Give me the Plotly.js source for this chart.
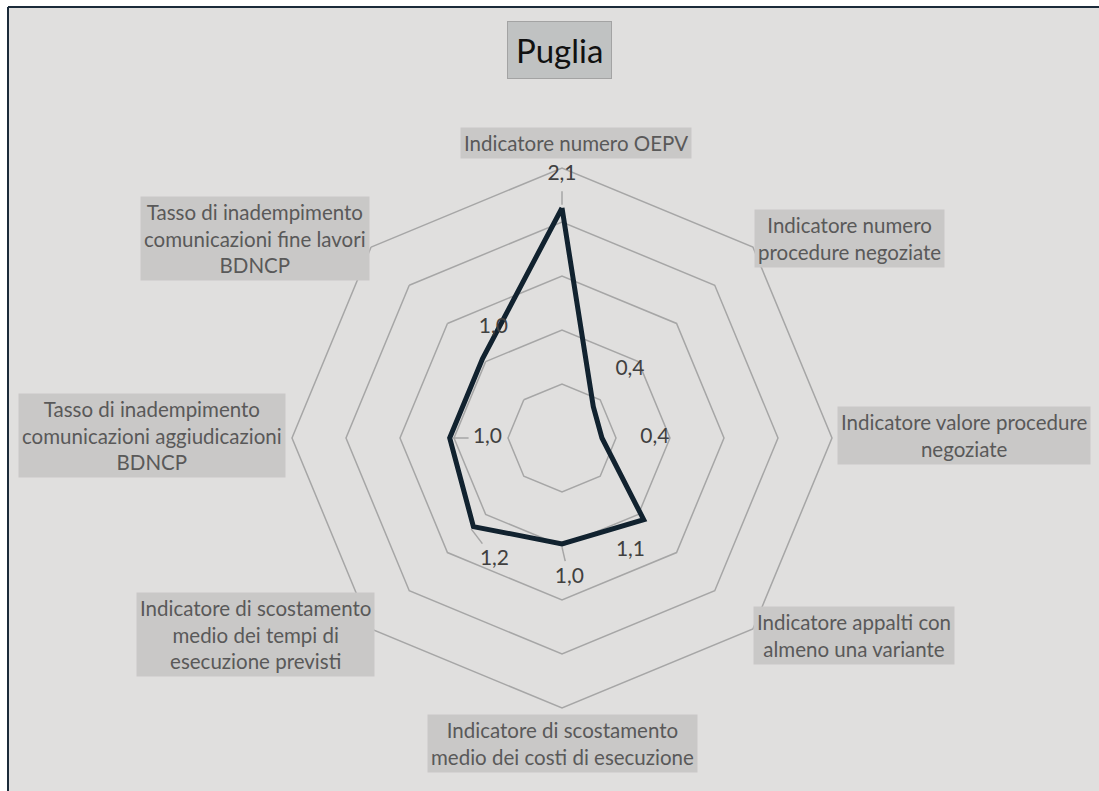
<!DOCTYPE html>
<html>
<head>
<meta charset="utf-8">
<script src="https://cdn.plot.ly/plotly-3.0.1.min.js"></script>
<style>
  html, body { margin: 0; padding: 0; background: #ffffff; }
  #chart { width: 1099px; height: 791px; }
</style>
</head>
<body>
<div id="chart"></div>
<script>
// categories, clockwise from the top
const categories = [
    "Indicatore numero OEPV",
    "Indicatore numero procedure negoziate",
    "Indicatore valore procedure negoziate",
    "Indicatore appalti con almeno una variante",
    "Indicatore di scostamento medio dei costi di esecuzione",
    "Indicatore di scostamento medio dei tempi di esecuzione previsti",
    "Tasso di inadempimento comunicazioni aggiudicazioni BDNCP",
    "Tasso di inadempimento comunicazioni fine lavori BDNCP"
];
const categoryLabels = [
    "Indicatore numero OEPV",
    "Indicatore numero<br>procedure negoziate",
    "Indicatore valore procedure<br>negoziate",
    "Indicatore appalti con<br>almeno una variante",
    "Indicatore di scostamento<br>medio dei costi di esecuzione",
    "Indicatore di scostamento<br>medio dei tempi di<br>esecuzione previsti",
    "Tasso di inadempimento<br>comunicazioni aggiudicazioni<br>BDNCP",
    "Tasso di inadempimento<br>comunicazioni fine lavori<br>BDNCP"
];
const values = [2.13, 0.41, 0.37, 1.07, 0.98, 1.16, 1.04, 1.04];

// where each data label sits, relative to its point (radial units / degrees)
const labelDr = [0.31, 0.48, 0.49, 0.15, 0.32, 0.13, -0.35, 0.16];
const labelDTheta = [0, 0, 0, 13.7, -3, -16, 0, 13];
// which labels get a small leader line back to the point
const hasLeader = [true, false, false, false, true, true, true, false];

// category box centers in pixels
const boxPos = [
    [576, 143], [849, 238], [964, 436], [854, 635],
    [562, 743], [255, 634], [152, 436], [255, 238]
];

const W = 1099, H = 791;
const angles = categories.map((c, i) => i * 45);
const FONT = 'Lato, "Open Sans", sans-serif';

const lineTrace = {
    type: 'scatterpolar',
    subplot: 'polar',
    r: values.concat([values[0]]),
    theta: categories.concat([categories[0]]),
    mode: 'lines',
    line: { color: '#11222f', width: 5 },
    hoverinfo: 'skip'
};

// leader lines: from just off the point half way towards its label
const leadR = [], leadT = [];
values.forEach((v, i) => {
    if (!hasLeader[i]) return;
    const s = labelDr[i] > 0 ? 1 : -1;
    leadR.push(v + s * 0.03, v + labelDr[i] * 0.5, null);
    leadT.push(angles[i], angles[i] + labelDTheta[i] * 0.5, null);
});
const leaderTrace = {
    type: 'scatterpolar',
    subplot: 'polar2',
    r: leadR,
    theta: leadT,
    mode: 'lines',
    line: { color: '#a6a6a6', width: 1.5 },
    connectgaps: false,
    hoverinfo: 'skip'
};

const labelTrace = {
    type: 'scatterpolar',
    subplot: 'polar2',
    r: values.map((v, i) => v + labelDr[i]),
    theta: angles.map((a, i) => a + labelDTheta[i]),
    customdata: values,
    mode: 'text',
    texttemplate: '%{customdata:.1f}',
    textposition: 'middle center',
    textfont: { family: FONT, size: 21, color: '#404040' },
    hoverinfo: 'skip'
};

const cx = 562, cy = 438, R = 270;
const domain = {
    x: [(cx - R) / W, (cx + R) / W],
    y: [(H - cy - R) / H, (H - cy + R) / H]
};

const annotations = categoryLabels.map((t, i) => ({
    text: t,
    xref: 'paper', yref: 'paper',
    x: boxPos[i][0] / W, y: 1 - boxPos[i][1] / H,
    xanchor: 'center', yanchor: 'middle',
    showarrow: false,
    align: 'center',
    bgcolor: '#c9c8c7',
    borderpad: 3,
    font: { family: FONT, size: 20.5, color: '#595959' }
}));

annotations.push({
    text: 'Puglia',
    xref: 'paper', yref: 'paper',
    x: 559 / W, y: 1 - 50 / H,
    xanchor: 'center', yanchor: 'middle',
    showarrow: false,
    bgcolor: '#c0c2c2',
    bordercolor: '#a3a3a3',
    borderwidth: 1,
    borderpad: 8,
    font: { family: FONT, size: 33, color: '#111111' }
});

const layout = {
    width: W,
    height: H,
    margin: { l: 0, r: 0, t: 0, b: 0 },
    paper_bgcolor: '#ffffff',
    showlegend: false,
    separators: ',.',
    shapes: [
        { type: 'rect', xref: 'paper', yref: 'paper', x0: 8 / W, x1: 1, y0: 0, y1: 1 - 7 / H,
          fillcolor: '#e0dfde', line: { width: 0 }, layer: 'below' },
        { type: 'line', xref: 'paper', yref: 'paper', x0: 8 / W, x1: 8 / W, y0: 0, y1: 1 - 7 / H,
          line: { color: '#1b2b3a', width: 2 } },
        { type: 'line', xref: 'paper', yref: 'paper', x0: 8 / W, x1: 1, y0: 1 - 7 / H, y1: 1 - 7 / H,
          line: { color: '#1b2b3a', width: 2 } }
    ],
    polar: {
        domain: domain,
        bgcolor: 'rgba(0,0,0,0)',
        gridshape: 'linear',
        radialaxis: {
            range: [0, 2.5], dtick: 0.5, showticklabels: false, ticks: '',
            showline: false, gridcolor: '#a6a6a6', gridwidth: 1.5
        },
        angularaxis: {
            type: 'category', rotation: 90, direction: 'clockwise',
            showticklabels: false, ticks: '', showgrid: false,
            showline: true, linecolor: '#a6a6a6', linewidth: 1.5
        }
    },
    polar2: {
        domain: domain,
        bgcolor: 'rgba(0,0,0,0)',
        radialaxis: { range: [0, 2.5], visible: false },
        angularaxis: {
            rotation: 90, direction: 'clockwise', thetaunit: 'degrees',
            visible: false, showgrid: false
        }
    },
    annotations: annotations
};

Plotly.newPlot('chart', [leaderTrace, lineTrace, labelTrace], layout, { displayModeBar: false, staticPlot: true });
</script>
</body>
</html>
